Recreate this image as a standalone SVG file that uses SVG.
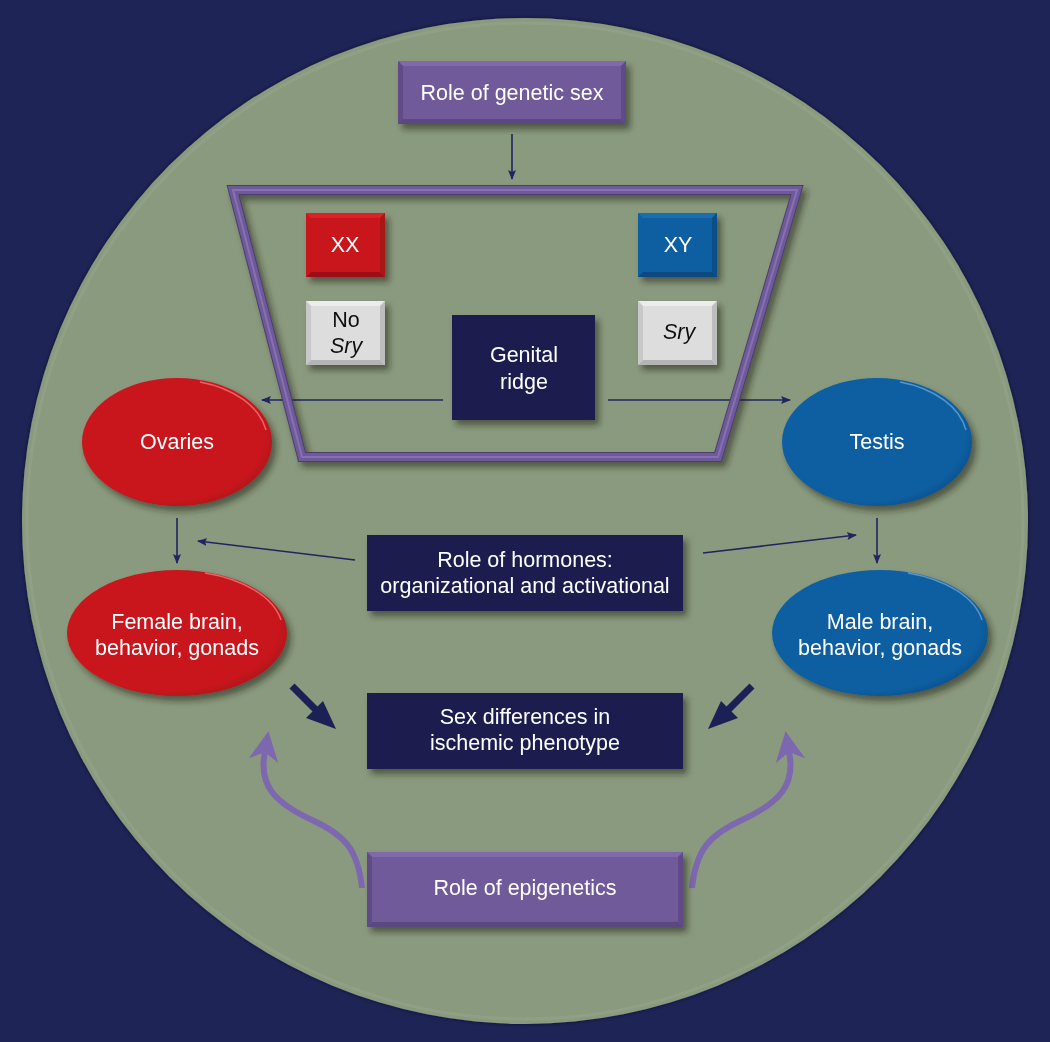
<svg xmlns="http://www.w3.org/2000/svg" width="1050" height="1042" viewBox="0 0 1050 1042">
<defs>
<filter id="sh" x="-20%" y="-20%" width="140%" height="150%">
<feDropShadow dx="4" dy="5" stdDeviation="3" flood-color="#1a2418" flood-opacity="0.55"/>
</filter>
<filter id="csh" x="-5%" y="-5%" width="110%" height="110%">
<feDropShadow dx="0" dy="0" stdDeviation="2" flood-color="#0a0f2a" flood-opacity="0.7"/>
</filter>
<radialGradient id="gRed" cx="0.45" cy="0.45" r="0.6">
<stop offset="0" stop-color="#c8161e"/><stop offset="0.85" stop-color="#c8161e"/><stop offset="1" stop-color="#a81218"/>
</radialGradient>
<radialGradient id="gBlue" cx="0.45" cy="0.45" r="0.6">
<stop offset="0" stop-color="#0f5fa1"/><stop offset="0.85" stop-color="#0f5fa1"/><stop offset="1" stop-color="#0b4e88"/>
</radialGradient>
<marker id="ah" viewBox="0 0 10 10" refX="9" refY="5" markerWidth="10" markerHeight="10" markerUnits="userSpaceOnUse" orient="auto">
<path d="M0,1 L10,5 L0,9 L2,5 z" fill="#1e2560"/>
</marker>
<marker id="ahp" viewBox="0 0 10 10" refX="5" refY="5" markerWidth="30" markerHeight="30" markerUnits="userSpaceOnUse" orient="auto">
<path d="M0,0 L10,5 L0,10 L3,5 z" fill="#7d68b0"/>
</marker>
</defs>
<style>
.t{font-family:"Liberation Sans",Arial,sans-serif;font-size:21.5px;fill:#ffffff;text-anchor:middle}
.tk{fill:#111111}
.it{font-style:italic}
.thin{stroke:#1e2560;stroke-width:1.6;fill:none;marker-end:url(#ah)}
.thick{stroke:#1b2055;stroke-width:7;fill:none}
.epi{stroke:#7d68b0;stroke-width:6;fill:none;marker-end:url(#ahp)}
.purple{fill:#6f5a99}
.navy{fill:#1b1f50}
.hlr{fill:none;stroke:#f0787a;stroke-width:1.5;opacity:0.8}
.hlb{fill:none;stroke:#6aa3d6;stroke-width:1.5;opacity:0.8}
</style>
<rect x="0" y="0" width="1050" height="1042" fill="#1e2556"/>
<circle cx="525" cy="521" r="503" fill="#8a9a7e" filter="url(#csh)"/>
<circle cx="525" cy="521" r="498" fill="none" stroke="#95a589" stroke-width="3" opacity="0.6"/>

<g id="connectors">
<line class="thin" x1="512" y1="134" x2="512" y2="179"/>
<line class="thin" x1="443" y1="400" x2="262" y2="400"/>
<line class="thin" x1="608" y1="400" x2="790" y2="400"/>
<line class="thin" x1="177" y1="518" x2="177" y2="563"/>
<line class="thin" x1="877" y1="518" x2="877" y2="563"/>
<line class="thin" x1="355" y1="560" x2="198" y2="541"/>
<line class="thin" x1="703" y1="553" x2="856" y2="535"/>
<g>
<line class="thick" x1="292" y1="686" x2="318" y2="712"/>
<polygon points="336,729 306,718 323,701" fill="#1b2055"/>
<line class="thick" x1="752" y1="686" x2="726" y2="712"/>
<polygon points="708,729 738,718 721,701" fill="#1b2055"/>
</g>
<path class="epi" d="M362,888 C358,850 345,835 312,820 C275,803 258,785 265,752 L266,746"/>
<path class="epi" d="M692,888 C696,850 709,835 742,820 C779,803 796,785 789,752 L788,746"/>
</g>

<g id="trapezoid">
<polygon points="233,190 797,190 718,457 302,457" fill="none" stroke="#4d3e6e" stroke-width="10" stroke-linejoin="miter" filter="url(#sh)"/>
<polygon points="233,190 797,190 718,457 302,457" fill="none" stroke="#6f5a99" stroke-width="8" stroke-linejoin="miter"/>
<polygon points="233,190 797,190 718,457 302,457" fill="none" stroke="#8670b3" stroke-width="2" stroke-linejoin="miter"/>
</g>

<g id="genetic-sex" filter="url(#sh)">
<rect x="398" y="61" width="228" height="63" class="purple"/>
<polygon points="398,61 626,61 621,66 403,66" fill="#7f6aab"/>
<polygon points="398,61 403,66 403,119 398,124" fill="#5f4c86"/>
<polygon points="626,61 626,124 621,119 621,66" fill="#5f4c86"/>
<polygon points="398,124 626,124 621,119 403,119" fill="#5a4880"/>
<text class="t" x="512" y="100">Role of genetic sex</text>
</g>

<g id="xx" filter="url(#sh)">
<rect x="306" y="213" width="79" height="64" fill="#c8161e"/>
<polygon points="306,213 385,213 380,218 311,218" fill="#dc2228"/>
<polygon points="385,213 385,277 380,272 380,218" fill="#a81218"/>
<polygon points="306,277 385,277 380,272 311,272" fill="#9e1016"/>
<text class="t" x="345" y="252">XX</text>
</g>

<g id="xy" filter="url(#sh)">
<rect x="638" y="213" width="79" height="64" fill="#0f5fa1"/>
<polygon points="638,213 717,213 712,218 643,218" fill="#1a6cb0"/>
<polygon points="717,213 717,277 712,272 712,218" fill="#0b4e88"/>
<polygon points="638,277 717,277 712,272 643,272" fill="#0a4880"/>
<text class="t" x="678" y="252">XY</text>
</g>

<g id="no-sry" filter="url(#sh)">
<rect x="306" y="301" width="79" height="64" fill="#dddddd"/>
<polygon points="306,301 385,301 380,306 311,306" fill="#ececec"/>
<polygon points="306,301 311,306 311,360 306,365" fill="#c8c8c8"/>
<polygon points="385,301 385,365 380,360 380,306" fill="#bdbdbd"/>
<polygon points="306,365 385,365 380,360 311,360" fill="#b4b4b4"/>
<text class="t tk" x="346" y="327">No</text>
<text class="t tk it" x="346" y="353">Sry</text>
</g>

<g id="sry" filter="url(#sh)">
<rect x="638" y="301" width="79" height="64" fill="#dddddd"/>
<polygon points="638,301 717,301 712,306 643,306" fill="#ececec"/>
<polygon points="638,301 643,306 643,360 638,365" fill="#c8c8c8"/>
<polygon points="717,301 717,365 712,360 712,306" fill="#bdbdbd"/>
<polygon points="638,365 717,365 712,360 643,360" fill="#b4b4b4"/>
<text class="t tk it" x="679" y="339">Sry</text>
</g>

<g id="genital-ridge" filter="url(#sh)">
<rect x="452" y="315" width="143" height="105" class="navy"/>
<text class="t" x="524" y="362">Genital</text>
<text class="t" x="524" y="389">ridge</text>
</g>

<g id="ovaries" filter="url(#sh)">
<ellipse cx="177" cy="442" rx="95" ry="64" fill="url(#gRed)"/>
<path class="hlr" d="M200,382 A92,61 0 0 1 266,430"/>
<text class="t" x="177" y="449">Ovaries</text>
</g>

<g id="testis" filter="url(#sh)">
<ellipse cx="877" cy="442" rx="95" ry="64" fill="url(#gBlue)"/>
<path class="hlb" d="M900,382 A92,61 0 0 1 966,430"/>
<text class="t" x="877" y="449">Testis</text>
</g>

<g id="female-brain" filter="url(#sh)">
<ellipse cx="177" cy="633" rx="110" ry="63" fill="url(#gRed)"/>
<path class="hlr" d="M205,573 A107,60 0 0 1 281,620"/>
<text class="t" x="177" y="629">Female brain,</text>
<text class="t" x="177" y="655">behavior, gonads</text>
</g>

<g id="male-brain" filter="url(#sh)">
<ellipse cx="880" cy="633" rx="108" ry="63" fill="url(#gBlue)"/>
<path class="hlb" d="M908,573 A105,60 0 0 1 982,620"/>
<text class="t" x="880" y="629">Male brain,</text>
<text class="t" x="880" y="655">behavior, gonads</text>
</g>

<g id="hormones" filter="url(#sh)">
<rect x="367" y="535" width="316" height="76" class="navy"/>
<text class="t" x="525" y="567">Role of hormones:</text>
<text class="t" x="525" y="593">organizational and activational</text>
</g>

<g id="sex-differences" filter="url(#sh)">
<rect x="367" y="693" width="316" height="76" class="navy"/>
<text class="t" x="525" y="724">Sex differences in</text>
<text class="t" x="525" y="750">ischemic phenotype</text>
</g>

<g id="epigenetics" filter="url(#sh)">
<rect x="367" y="852" width="316" height="75" class="purple"/>
<polygon points="367,852 683,852 678,857 372,857" fill="#7f6aab"/>
<polygon points="367,852 372,857 372,922 367,927" fill="#5f4c86"/>
<polygon points="683,852 683,927 678,922 678,857" fill="#5f4c86"/>
<polygon points="367,927 683,927 678,922 372,922" fill="#5a4880"/>
<text class="t" x="525" y="895">Role of epigenetics</text>
</g>
</svg>
